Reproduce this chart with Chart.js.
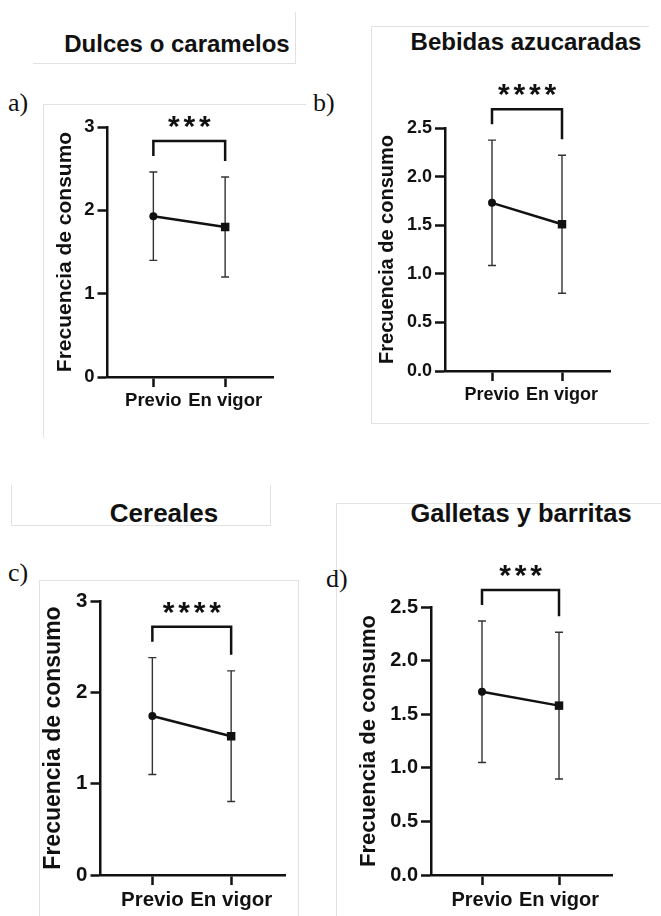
<!DOCTYPE html>
<html>
<head>
<meta charset="utf-8">
<script src="https://cdn.jsdelivr.net/npm/chart.js@4"></script>
<style>
  body { margin: 0; background: #fff; width: 661px; height: 916px; position: relative; overflow: hidden; }
  .caja { position: absolute; border: 0 solid #e2e2e2; box-sizing: border-box; }
  .letra { position: absolute; font-family: "Liberation Serif", "Times New Roman", serif; font-size: 26px; line-height: 1; color: #111; }
  .titulo { position: absolute; width: 400px; text-align: center; white-space: nowrap; font-family: "Liberation Sans", Arial, sans-serif; font-weight: bold; line-height: 1; color: #111; }
  canvas { position: absolute; }
</style>
</head>
<body>

<!-- marcos grises de las figuras originales -->
<div class="caja" style="left:33px;top:12px;width:263px;height:52px;border-right-width:1px;border-bottom-width:1px"></div>
<div class="caja" style="left:43px;top:104px;width:263px;height:334px;border-top-width:1px;border-left-width:1px"></div>
<div class="caja" style="left:371px;top:26px;width:278px;height:398px;border-top-width:1px;border-left-width:1px;border-bottom-width:1px"></div>
<div class="caja" style="left:11px;top:485px;width:260px;height:41px;border-left-width:1px;border-right-width:1px;border-bottom-width:1px"></div>
<div class="caja" style="left:39px;top:580px;width:260px;height:340px;border-top-width:1px;border-left-width:1px;border-right-width:1px"></div>
<div class="caja" style="left:336px;top:503px;width:330px;height:420px;border-top-width:1px;border-left-width:1px"></div>

<script>
const grupos = ['Previo', 'En vigor'];

// media y desviación de la frecuencia de consumo
const dulcesMedia = [1.93, 1.80];
const dulcesDE = [0.53, 0.60];
const bebidasMedia = [1.73, 1.51];
const bebidasDE = [0.645, 0.71];
const cerealesMedia = [1.74, 1.52];
const cerealesDE = [0.64, 0.715];
const galletasMedia = [1.71, 1.58];
const galletasDE = [0.66, 0.685];

const ticksEnteros = [0, 1, 2, 3];
const ticksMedios = [0, 0.5, 1, 1.5, 2, 2.5];

const titulos = ['Dulces o caramelos', 'Bebidas azucaradas', 'Cereales', 'Galletas y barritas'];
const letras = ['a)', 'b)', 'c)', 'd)'];
const significancia = ['***', '****', '****', '***'];

const fuente = "'Liberation Sans', Arial, sans-serif";
const negro = '#111';

// posiciones de cada panel en la página
const paneles = [
  { media: dulcesMedia, de: dulcesDE, ticks: ticksEnteros, dec: 0,
    ejeIzq: 107, ejeDer: 273, x0: 153, x1: 225, yArriba: 127, yAbajo: 377, tituloY: 65, fs: 18.5, ts: 21,
    titulo: { x: 177, base: 52, size: 24 }, letra: { x: 8, base: 112 } },
  { media: bebidasMedia, de: bebidasDE, ticks: ticksMedios, dec: 1,
    ejeIzq: 445, ejeDer: 610, x0: 492, x1: 562, yArriba: 128, yAbajo: 371, tituloY: 387, fs: 18, ts: 20,
    titulo: { x: 526, base: 50, size: 24 }, letra: { x: 313, base: 112 } },
  { media: cerealesMedia, de: cerealesDE, ticks: ticksEnteros, dec: 0,
    ejeIzq: 100, ejeDer: 285, x0: 152, x1: 231, yArriba: 601, yAbajo: 875, tituloY: 53, fs: 20.5, ts: 23,
    titulo: { x: 164, base: 522, size: 26 }, letra: { x: 8, base: 582 } },
  { media: galletasMedia, de: galletasDE, ticks: ticksMedios, dec: 1,
    ejeIzq: 431, ejeDer: 612, x0: 482, x1: 559, yArriba: 607, yAbajo: 875, tituloY: 369, fs: 20, ts: 22,
    titulo: { x: 521, base: 523, size: 25.5 }, letra: { x: 326, base: 588 } }
];

function crearPanel(p, i) {
  // titulo y letra del panel
  const t = document.createElement('div');
  t.className = 'titulo';
  t.textContent = titulos[i];
  t.style.fontSize = p.titulo.size + 'px';
  t.style.left = (p.titulo.x - 200) + 'px';
  t.style.top = (p.titulo.base - 0.8465 * p.titulo.size) + 'px';
  document.body.appendChild(t);

  const l = document.createElement('div');
  l.className = 'letra';
  l.textContent = letras[i];
  l.style.left = p.letra.x + 'px';
  l.style.top = (p.letra.base - 0.8375 * 26) + 'px';
  document.body.appendChild(l);

  const izq = p.tituloY - p.ts / 2;
  const arriba = p.yArriba - 70;
  const ancho = p.ejeDer + 15 - izq;
  const alto = p.yAbajo + 45 - arriba;

  const canvas = document.createElement('canvas');
  canvas.width = ancho;
  canvas.height = alto;
  canvas.style.left = izq + 'px';
  canvas.style.top = arriba + 'px';
  document.body.appendChild(canvas);

  const paso = p.x1 - p.x0;
  const xMin = -(p.x0 - p.ejeIzq) / paso;
  const xMax = 1 + (p.ejeDer - p.x1) / paso;

  // barras de error y corchete de significancia
  const extras = {
    id: 'extras' + i,
    beforeDatasetsDraw(chart) {
      const ctx = chart.ctx;
      const x = chart.scales.x, y = chart.scales.y;
      ctx.save();
      ctx.strokeStyle = '#333';
      ctx.lineWidth = 1.4;
      p.media.forEach((m, k) => {
        const px = x.getPixelForValue(k);
        const sup = y.getPixelForValue(m + p.de[k]);
        const inf = y.getPixelForValue(m - p.de[k]);
        ctx.beginPath();
        ctx.moveTo(px, sup); ctx.lineTo(px, inf);
        ctx.moveTo(px - 4, sup); ctx.lineTo(px + 4, sup);
        ctx.moveTo(px - 4, inf); ctx.lineTo(px + 4, inf);
        ctx.stroke();
      });
      ctx.restore();
    },
    afterDraw(chart) {
      const ctx = chart.ctx;
      const x = chart.scales.x, y = chart.scales.y;
      const pa = x.getPixelForValue(0), pb = x.getPixelForValue(1);
      const fa = y.getPixelForValue(p.media[0] + p.de[0]) - 16;
      const fb = y.getPixelForValue(p.media[1] + p.de[1]) - 16;
      const barra = Math.min(fa, fb) - 15;
      ctx.save();
      ctx.strokeStyle = negro;
      ctx.lineWidth = 2.5;
      ctx.lineJoin = 'miter';
      ctx.beginPath();
      ctx.moveTo(pa, fa); ctx.lineTo(pa, barra); ctx.lineTo(pb, barra); ctx.lineTo(pb, fb);
      ctx.stroke();
      const txt = significancia[i];
      const size = 30;
      ctx.fillStyle = negro;
      ctx.font = 'bold ' + size + 'px ' + fuente;
      ctx.textAlign = 'center';
      ctx.textBaseline = 'alphabetic';
      const centro = (pa + pb) / 2;
      const base = barra - 22 + 0.57 * size;
      for (let c = 0; c < txt.length; c++) {
        ctx.fillText(txt[c], centro + (c - (txt.length - 1) / 2) * 15.5, base);
      }
      ctx.restore();
    }
  };

  new Chart(canvas, {
    type: 'line',
    data: {
      datasets: [{
        data: p.media.map((m, k) => ({ x: k, y: m })),
        borderColor: negro,
        backgroundColor: negro,
        borderWidth: 2.5,
        pointStyle: ['circle', 'rect'],
        pointRadius: [4, 6],
        pointBorderWidth: 0,
        tension: 0
      }]
    },
    options: {
      responsive: false,
      animation: false,
      events: [],
      layout: { padding: { left: 0, right: 15, top: 70, bottom: 0 } },
      plugins: { legend: { display: false }, tooltip: { enabled: false } },
      scales: {
        x: {
          type: 'linear',
          min: xMin,
          max: xMax,
          afterBuildTicks: ax => { ax.ticks = grupos.map((g, k) => ({ value: k })); },
          afterFit: ax => { ax.height = 45; },
          border: { display: true, color: negro, width: 2.5 },
          grid: { drawOnChartArea: false, drawTicks: true, tickLength: 10, tickColor: negro, tickWidth: 2.5 },
          ticks: {
            autoSkip: false, maxRotation: 0, padding: 3, color: negro,
            font: { family: fuente, size: p.fs, weight: 'bold' },
            callback: (v, k) => grupos[k]
          }
        },
        y: {
          min: 0,
          max: p.ticks[p.ticks.length - 1],
          afterBuildTicks: ax => { ax.ticks = p.ticks.map(v => ({ value: v })); },
          afterFit: ax => { ax.width = p.ejeIzq - izq; },
          border: { display: true, color: negro, width: 2.5 },
          grid: { drawOnChartArea: false, drawTicks: true, tickLength: 10, tickColor: negro, tickWidth: 2.5 },
          ticks: {
            padding: 3, color: negro,
            font: { family: fuente, size: p.fs, weight: 'bold' },
            callback: v => v.toFixed(p.dec)
          },
          title: {
            display: true, text: 'Frecuencia de consumo', color: negro,
            font: { family: fuente, size: p.ts, weight: 'bold', lineHeight: 1 },
            padding: { top: 0, bottom: 0 }
          }
        }
      }
    },
    plugins: [extras]
  });
}

paneles.forEach(crearPanel);
</script>
</body>
</html>
